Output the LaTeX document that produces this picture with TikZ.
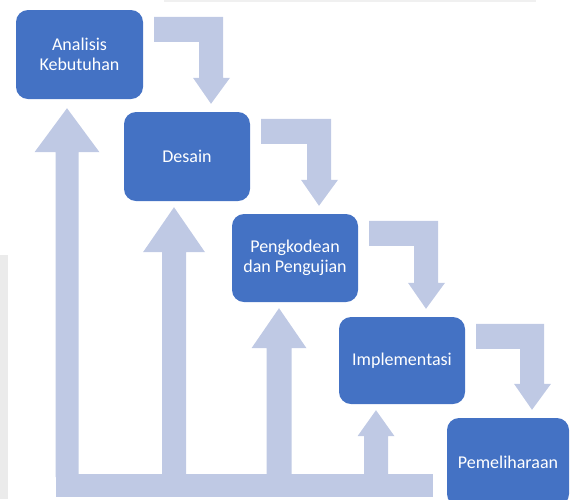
\documentclass[tikz,border=0pt]{standalone}
\usepackage{fontspec}
\setmainfont{Carlito}
\usetikzlibrary{calc}
\definecolor{boxblue}{RGB}{68,114,196}
\definecolor{flowblue}{RGB}{191,201,228}
\definecolor{edgegrey}{RGB}{235,235,235}
\definecolor{topgrey}{RGB}{240,240,240}
\tikzset{
  stepbox/.style={fill=boxblue, rounded corners=12pt, inner sep=0pt,
    text=white, align=center, font=\fontsize{18}{20}\selectfont},
  flow/.style={fill=flowblue}
}
\newcommand\downarr[2]{%
  \path ($(#1.north east)+(11,7)$) coordinate (a1)
        ($(#1.north east)+(11,32)$) coordinate (a2)
        ($(#2.north)+(24,-8)$) coordinate (tp)
        ($(tp)+(12,-26)$) coordinate (sr)
        ($(tp)+(-12,-26)$) coordinate (sl);
  \fill[flow] (a1) -- (a1 -| sr) -- (sr) -- ($(tp)+(19,-26)$) -- (tp)
     -- ($(tp)+(-18,-26)$) -- (sl) -- (sl |- a2) -- (a2) -- cycle;
}
% #1 box, #2 tip offset, #3 head half width, #4 head height, #5 shaft half width
\newcommand\uparr[5]{%
  \path ($(#1.south)+#2$) coordinate (tp)
        ($(tp)+(#5,#4)$) coordinate (sr)
        ($(tp)+(-#5,#4)$) coordinate (sl);
  \fill[flow] (tp) -- ($(tp)+(#3,#4)$) -- (sr) -- (sr |- barin) -- (sl |- barin)
     -- (sl) -- ($(tp)+(-#3,#4)$) -- cycle;
}
\begin{document}
\begin{tikzpicture}[x=1pt,y=-1pt]
\useasboundingbox (0,0) rectangle (570,499);
\clip (0,0) rectangle (570,499);
% page-edge remnants
\fill[edgegrey] (0,255) rectangle (8,499);
\fill[topgrey] (164,0) rectangle (536,2);

\node[stepbox, minimum width=127pt, minimum height=89pt] (b1) at (79.5,54.5) {Analisis\\Kebutuhan};
\node[stepbox, minimum width=126pt, minimum height=89pt] (b2) at (187,156.5) {Desain};
\node[stepbox, minimum width=126pt, minimum height=88pt] (b3) at (295,258) {Pengkodean\\dan Pengujian};
\node[stepbox, minimum width=126pt, minimum height=87pt] (b4) at (402,360.5) {Implementasi};
\node[stepbox, minimum width=122pt, minimum height=88pt] (b5) at (508,462) {Pemeliharaan};

\downarr{b1}{b2}
\downarr{b2}{b3}
\downarr{b3}{b4}
\downarr{b4}{b5}

% feedback bar
\coordinate (barL) at (56,474);
\coordinate (barR) at (433,497);
\coordinate (barin) at (56,477);
\fill[flow] (barL) rectangle (barR);
\uparr{b1}{(-12.5,9)}{32.5}{44}{11.5}
\uparr{b2}{(-13,6)}{31}{45}{12}
\uparr{b3}{(-16,6)}{27.5}{40}{12.5}
\uparr{b4}{(-26,6)}{18.5}{26}{12}
\end{tikzpicture}
\end{document}
